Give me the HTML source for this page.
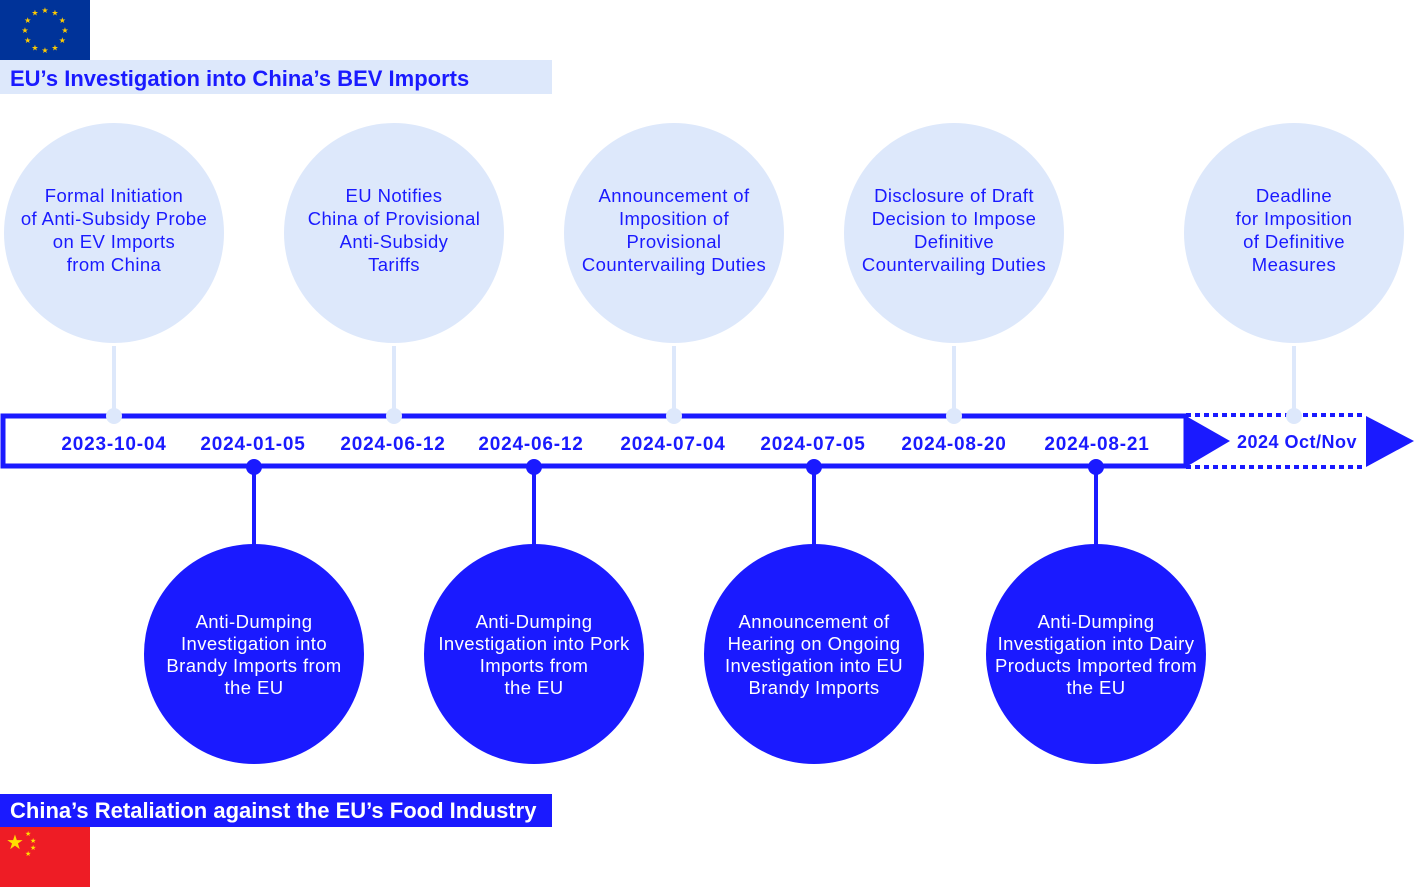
<!DOCTYPE html>
<html><head><meta charset="utf-8"><style>
html,body{margin:0;padding:0;background:#fff;}
svg{display:block;font-family:"Liberation Sans",sans-serif;}
</style></head><body>
<svg id="c" width="1414" height="888" viewBox="0 0 1414 888">
<rect x="0" y="0" width="90" height="60" fill="#003399"/>
<g id="eustars" fill="#ffcc00"></g>
<rect x="0" y="60" width="552" height="34" fill="#dde8fb"/>
<text x="10" y="86" font-size="22" font-weight="bold" fill="#1a1aff">EU’s Investigation into China’s BEV Imports</text>
<rect x="0" y="794" width="552" height="33" fill="#1a1aff"/>
<text x="10" y="818" font-size="22" font-weight="bold" fill="#fff">China’s Retaliation against the EU’s Food Industry</text>
<rect x="0" y="827" width="90" height="60" fill="#ee1c25"/>
<text x="6" y="849" font-size="20" fill="#ffde00">★</text>
<text x="25" y="836" font-size="7" fill="#ffde00">★</text>
<text x="30" y="843" font-size="7" fill="#ffde00">★</text>
<text x="30" y="850" font-size="7" fill="#ffde00">★</text>
<text x="25" y="856" font-size="7" fill="#ffde00">★</text>
<rect x="3" y="416" width="1183" height="50" fill="#fff" stroke="#1a1aff" stroke-width="5"/>
<line x1="1186" y1="415" x2="1364" y2="415" stroke="#1a1aff" stroke-width="4" stroke-dasharray="5,4"/>
<line x1="1186" y1="467" x2="1364" y2="467" stroke="#1a1aff" stroke-width="4" stroke-dasharray="5,4"/>
<polygon points="1186,416 1230,441 1186,467" fill="#1a1aff"/>
<polygon points="1366,416 1414,441 1366,467" fill="#1a1aff"/>
<g id="marks"></g>
</svg>
<script>
const dates=["2023-10-04","2024-01-05","2024-06-12","2024-06-12","2024-07-04","2024-07-05","2024-08-20","2024-08-21"];
const dateX=[114,253,393,531,673,813,954,1097];
const topEvents=[["Formal Initiation","of Anti-Subsidy Probe","on EV Imports","from China"],["EU Notifies","China of Provisional","Anti-Subsidy","Tariffs"],["Announcement of","Imposition of","Provisional","Countervailing Duties"],["Disclosure of Draft","Decision to Impose","Definitive","Countervailing Duties"],["Deadline","for Imposition","of Definitive","Measures"]];
const topX=[114,394,674,954,1294];
const botEvents=[["Anti-Dumping","Investigation into","Brandy Imports from","the EU"],["Anti-Dumping","Investigation into Pork","Imports from","the EU"],["Announcement of","Hearing on Ongoing","Investigation into EU","Brandy Imports"],["Anti-Dumping","Investigation into Dairy","Products Imported from","the EU"]];
const botX=[254,534,814,1096];
const NS="http://www.w3.org/2000/svg";
const g=document.getElementById('marks');
function el(t,a,p){const e=document.createElementNS(NS,t);for(const k in a)e.setAttribute(k,a[k]);(p||g).appendChild(e);return e;}
const st=document.getElementById('eustars');
for(let i=0;i<12;i++){const a=i*Math.PI/6;const t=el('text',{x:45+20*Math.sin(a),y:30-20*Math.cos(a)+3,'font-size':8,'text-anchor':'middle',fill:'#ffcc00'},st);t.textContent='★';}
dates.forEach((d,i)=>{const t=el('text',{x:dateX[i],y:450,'font-size':19,'font-weight':'bold',fill:'#1a1aff','text-anchor':'middle','letter-spacing':0.8});


t.textContent=d;});
const ft=el('text',{x:1297,y:448,'font-size':18,'font-weight':'bold',fill:'#1a1aff','text-anchor':'middle','letter-spacing':0.5});


ft.textContent='2024 Oct/Nov';
topEvents.forEach((lines,i)=>{const x=topX[i];
el('line',{x1:x,y1:346,x2:x,y2:412,stroke:'#dde8fb','stroke-width':4});
el('circle',{cx:x,cy:416,r:8,fill:'#dde8fb'});
const c=el('circle',{cx:x,cy:233,r:110,fill:'#dde8fb'});


lines.forEach((l,j)=>{const t=el('text',{x:x,y:202+j*23,'font-size':18.5,fill:'#1a1aff','text-anchor':'middle','letter-spacing':0.4});t.textContent=l;});});
botEvents.forEach((lines,i)=>{const x=botX[i];
el('line',{x1:x,y1:467,x2:x,y2:545,stroke:'#1a1aff','stroke-width':4});
el('circle',{cx:x,cy:467,r:8,fill:'#1a1aff'});
const c=el('circle',{cx:x,cy:654,r:110,fill:'#1a1aff'});


lines.forEach((l,j)=>{const t=el('text',{x:x,y:628+j*22,'font-size':18.5,fill:'#fff','text-anchor':'middle','letter-spacing':0.4});t.textContent=l;});});
</script>
</body></html>
